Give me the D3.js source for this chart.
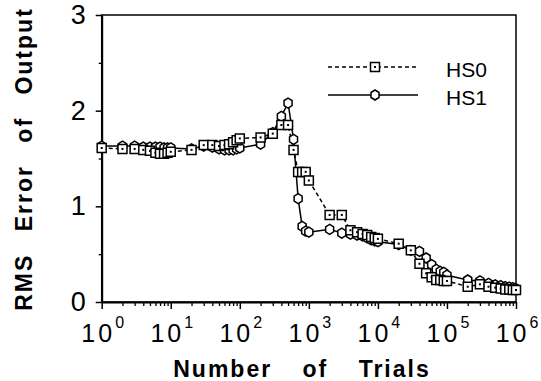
<!DOCTYPE html>
<html>
<head>
<meta charset="utf-8">
<script src="https://cdn.jsdelivr.net/npm/d3@7"></script>
<style>
  body { margin: 0; background: #fff; }
  svg { display: block; }
  text { font-family: "Liberation Sans", Arial, sans-serif; fill: #000; }
</style>
</head>
<body>
<div id="chart"></div>
<script>
const trials = [
    1, 2, 3, 4, 5, 6, 7, 8, 9,
    10, 20, 30, 40, 50, 60, 70, 80, 90,
    100, 200, 300, 400, 500, 600, 700, 800, 900,
    1000, 2000, 3000, 4000, 5000, 6000, 7000, 8000, 9000,
    10000, 20000, 30000, 40000, 50000, 60000, 70000, 80000, 90000,
    100000, 200000, 300000, 400000, 500000, 600000, 700000, 800000, 900000,
    1000000
];

const hs0 = [
    1.61, 1.60, 1.60, 1.59, 1.58, 1.56, 1.55, 1.55, 1.56,
    1.57, 1.59, 1.64, 1.64, 1.63, 1.64, 1.65, 1.67, 1.69,
    1.71, 1.72, 1.76, 1.85, 1.85, 1.59, 1.36, 1.36, 1.36,
    1.27, 0.91, 0.91, 0.75, 0.73, 0.71, 0.70, 0.68, 0.67,
    0.66, 0.61, 0.54, 0.40, 0.30, 0.26, 0.23, 0.23, 0.22,
    0.22, 0.16, 0.185, 0.16, 0.15, 0.14, 0.13, 0.13, 0.125,
    0.125
];

const hs1 = [
    1.63, 1.63, 1.63, 1.62, 1.62, 1.62, 1.62, 1.61, 1.61,
    1.61, 1.60, 1.63, 1.62, 1.60, 1.59, 1.59, 1.59, 1.60,
    1.61, 1.65, 1.77, 1.94, 2.08, 1.70, 1.08, 0.79, 0.74,
    0.73, 0.76, 0.72, 0.71, 0.70, 0.69, 0.67, 0.65, 0.64,
    0.63, 0.60, 0.54, 0.53, 0.46, 0.39, 0.34, 0.32, 0.31,
    0.28, 0.23, 0.22, 0.195, 0.18, 0.17, 0.16, 0.155, 0.15,
    0.14
];

const decades = [1, 10, 100, 1000, 10000, 100000, 1000000];
const exponents = ["0", "1", "2", "3", "4", "5", "6"];
const yMajor = [0, 1, 2, 3];
const yMinor = [0.5, 1.5, 2.5];
const seriesNames = ["HS0", "HS1"];

const width = 541, height = 381;
const plotLeft = 101.7, plotRight = 516, plotTop = 15, plotBottom = 302;

const svg = d3.select("#chart").append("svg")
    .attr("width", width)
    .attr("height", height);

const x = d3.scaleLog().domain([1, 1e6]).range([plotLeft, plotRight]);
const y = d3.scaleLinear().domain([0, 3]).range([plotBottom, plotTop]);

// frame
svg.append("rect")
    .attr("x", plotLeft).attr("y", plotTop)
    .attr("width", plotRight - plotLeft).attr("height", plotBottom - plotTop)
    .attr("fill", "none")
    .attr("stroke", "#000")
    .attr("stroke-width", 1.5);

// x axis: minor ticks then majors
const minorX = trials.filter(t => !decades.includes(t));
svg.append("g")
    .attr("transform", `translate(0,${plotBottom})`)
    .call(d3.axisBottom(x).tickValues(minorX).tickSize(4).tickFormat(""))
    .call(g => g.select(".domain").remove())
    .call(g => g.selectAll("line").attr("stroke-width", 1.3));

svg.append("g")
    .attr("transform", `translate(0,${plotBottom})`)
    .call(d3.axisBottom(x).tickValues(decades).tickSize(7).tickSizeOuter(0).tickFormat(""))
    .call(g => g.select(".domain").attr("stroke-width", 2))
    .call(g => g.selectAll("line").attr("stroke-width", 1.5));

const xLabels = svg.append("g")
    .selectAll("text")
    .data(decades)
    .enter().append("text")
    .attr("x", d => x(d) + 1)
    .attr("y", 342)
    .attr("text-anchor", "middle")
    .style("font-size", "25px");

xLabels.append("tspan")
    .style("letter-spacing", "3px")
    .text("10");
xLabels.append("tspan")
    .attr("dy", -14)
    .style("font-size", "16px")
    .text((d, i) => exponents[i]);

// y axis
svg.append("g")
    .attr("transform", `translate(${plotLeft},0)`)
    .call(d3.axisLeft(y).tickValues(yMinor).tickSize(3).tickFormat(""))
    .call(g => g.select(".domain").remove())
    .call(g => g.selectAll("line").attr("stroke-width", 1.3));

svg.append("g")
    .attr("transform", `translate(${plotLeft},0)`)
    .call(d3.axisLeft(y).tickValues(yMajor).tickSize(6).tickSizeOuter(0).tickPadding(10).tickFormat(d3.format("d")))
    .call(g => g.select(".domain").attr("stroke-width", 2))
    .call(g => g.selectAll("line").attr("stroke-width", 1.5))
    .call(g => g.selectAll("text")
        .style("font-size", "27px")
        .style("font-family", "\"Liberation Sans\", Arial, sans-serif")
        .attr("fill", "#000"));

// axis titles
svg.append("text")
    .attr("transform", "translate(32,159) rotate(-90)")
    .attr("text-anchor", "middle")
    .style("font-size", "23px")
    .style("font-weight", "bold")
    .style("letter-spacing", "2px")
    .style("word-spacing", "14px")
    .text("RMS Error of Output");

svg.append("text")
    .attr("x", 302)
    .attr("y", 377)
    .attr("text-anchor", "middle")
    .style("font-size", "23px")
    .style("font-weight", "bold")
    .style("letter-spacing", "2px")
    .style("word-spacing", "22px")
    .text("Number of Trials");

// series
const pts0 = trials.map((t, i) => [t, hs0[i]]);
const pts1 = trials.map((t, i) => [t, hs1[i]]);
const line = d3.line().x(d => x(d[0])).y(d => y(d[1]));

const squarePath = "M-4.5,-4.5H4.5V4.5H-4.5Z";
const diamondPath = "M0,-5L4,-2.5L4,2.5L0,5L-4,2.5L-4,-2.5Z";

function drawSquare(g) {
    g.append("path")
        .attr("d", squarePath)
        .attr("fill", "#fff")
        .attr("stroke", "#000")
        .attr("stroke-width", 1.5);
    g.append("rect")
        .attr("x", -1).attr("y", -1)
        .attr("width", 2).attr("height", 2)
        .attr("fill", "#000");
}

function drawDiamond(g) {
    g.append("path")
        .attr("d", diamondPath)
        .attr("fill", "#fff")
        .attr("stroke", "#000")
        .attr("stroke-width", 1.5);
}

svg.append("path")
    .datum(pts1)
    .attr("fill", "none")
    .attr("stroke", "#000")
    .attr("stroke-width", 1.5)
    .attr("d", line);

svg.append("path")
    .datum(pts0)
    .attr("fill", "none")
    .attr("stroke", "#000")
    .attr("stroke-width", 1.5)
    .attr("stroke-dasharray", "4,3")
    .attr("d", line);

svg.append("g")
    .selectAll("g")
    .data(pts1)
    .enter().append("g")
    .attr("transform", d => `translate(${x(d[0])},${y(d[1])})`)
    .each(function () { drawDiamond(d3.select(this)); });

svg.append("g")
    .selectAll("g")
    .data(pts0)
    .enter().append("g")
    .attr("transform", d => `translate(${x(d[0])},${y(d[1])})`)
    .each(function () { drawSquare(d3.select(this)); });

// legend
const legend = svg.append("g");
const legendY = [67, 95];

legend.selectAll("line")
    .data(seriesNames)
    .enter().append("line")
    .attr("x1", 328).attr("x2", 418)
    .attr("y1", (d, i) => legendY[i]).attr("y2", (d, i) => legendY[i])
    .attr("stroke", "#000")
    .attr("stroke-width", 1.5)
    .attr("stroke-dasharray", (d, i) => i === 0 ? "4,3" : null);

legend.append("g")
    .attr("transform", `translate(375,${legendY[0]})`)
    .call(drawSquare);
legend.append("g")
    .attr("transform", `translate(375,${legendY[1]})`)
    .call(drawDiamond);

legend.selectAll("text")
    .data(seriesNames)
    .enter().append("text")
    .attr("x", 446)
    .attr("y", (d, i) => legendY[i] + 10)
    .style("font-size", "21px")
    .text(d => d);
</script>
</body>
</html>
